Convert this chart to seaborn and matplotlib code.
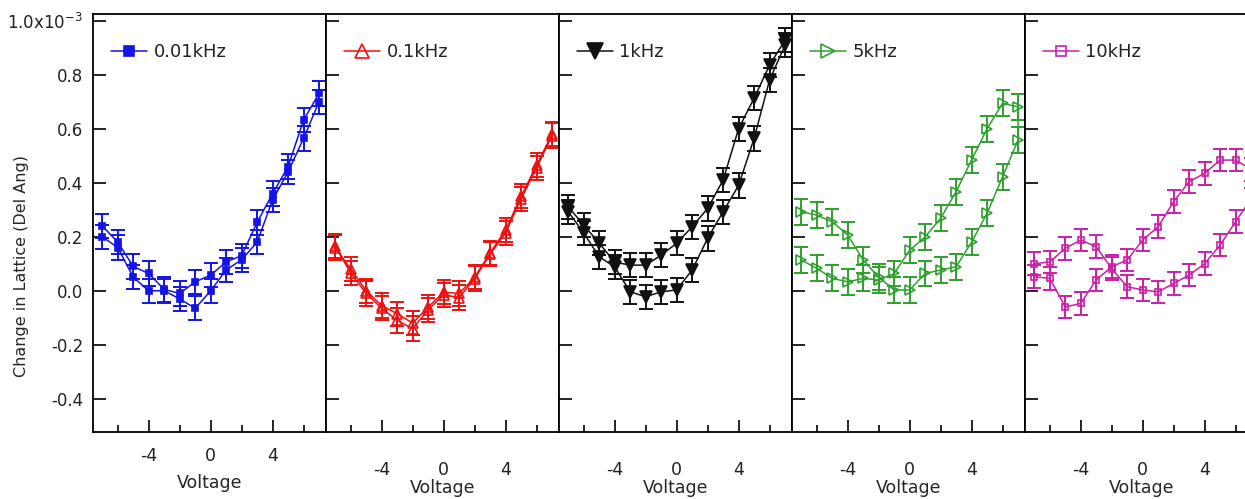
import numpy as np
import pandas as pd
import matplotlib
matplotlib.use("Agg")
import matplotlib.pyplot as plt
import seaborn as sns

# Bias voltage steps (same for every panel)
volts = [-7, -6, -5, -4, -3, -2, -1, 0, 1, 2, 3, 4, 5, 6, 7]

# Change in lattice (x1e-3 Del Ang), two sweep branches per frequency
f001_a = [0.20, 0.16, 0.05, 0.00, 0.00, -0.03, -0.065, 0.00, 0.077, 0.115, 0.18, 0.336, 0.44, 0.564, 0.70]
f001_b = [0.24, 0.18, 0.09, 0.064, 0.005, -0.01, 0.033, 0.058, 0.107, 0.13, 0.253, 0.36, 0.46, 0.632, 0.731]

f01_a = [0.16, 0.08, 0.00, -0.055, -0.085, -0.12, -0.06, -0.005, -0.01, 0.05, 0.14, 0.225, 0.35, 0.465, 0.58]
f01_b = [0.165, 0.065, -0.01, -0.065, -0.11, -0.14, -0.07, -0.015, -0.025, 0.045, 0.135, 0.215, 0.34, 0.455, 0.575]

f1_a = [0.311, 0.243, 0.176, 0.106, 0.095, 0.095, 0.132, 0.176, 0.237, 0.305, 0.41, 0.60, 0.713, 0.836, 0.928]
f1_b = [0.293, 0.213, 0.126, 0.088, -0.004, -0.022, -0.004, 0.003, 0.077, 0.194, 0.293, 0.39, 0.564, 0.78, 0.91]

f5_a = [0.293, 0.28, 0.256, 0.206, 0.114, 0.05, 0.003, 0.003, 0.064, 0.077, 0.089, 0.18, 0.287, 0.422, 0.558]
f5_b = [0.114, 0.083, 0.046, 0.033, 0.046, 0.04, 0.064, 0.15, 0.20, 0.268, 0.367, 0.484, 0.60, 0.694, 0.681]

f10_a = [0.052, 0.046, -0.06, -0.047, 0.04, 0.089, 0.114, 0.188, 0.237, 0.33, 0.404, 0.435, 0.484, 0.484, 0.45]
f10_b = [0.10, 0.107, 0.157, 0.188, 0.163, 0.082, 0.015, 0.003, -0.004, 0.027, 0.058, 0.10, 0.169, 0.256, 0.34]

freq_labels = ["0.01kHz", "0.1kHz", "1kHz", "5kHz", "10kHz"]
err_sizes = [0.045, 0.045, 0.045, 0.048, 0.042]

ytick_vals = [-0.4, -0.2, 0.0, 0.2, 0.4, 0.6, 0.8, 1.0]
ytick_labels = ["-0.4", "-0.2", "0.0", "0.2", "0.4", "0.6", "0.8", "1.0x10$^{-3}$"]


def main():
    sns.set_theme(style="ticks")
    plt.rcParams.update({
        'font.family': ['DejaVu Sans'],
        'mathtext.default': 'regular',
        'axes.edgecolor': 'black',
        'axes.linewidth': 1.3,
        'text.color': '#222222',
        'xtick.color': 'black',
        'ytick.color': 'black',
        'xtick.labelcolor': '#222222',
        'ytick.labelcolor': '#222222',
    })

    branches = [(f001_a, f001_b), (f01_a, f01_b), (f1_a, f1_b), (f5_a, f5_b), (f10_a, f10_b)]
    colors = ['#1414e6', '#f01010', '#111111', '#2ea02e', '#cc1fa8']
    markers = ['s', '^', 'v', '>', 's']
    msizes = [4.5, 7, 8, 6.5, 5]
    filled = [True, False, True, False, False]

    W, H = 1245, 499
    fig = plt.figure(figsize=(W / 100, H / 100), dpi=100, facecolor='white')

    for i, (a, b) in enumerate(branches):
        left = 93 + i * 233
        ax = fig.add_axes([left / W, (H - 432) / H, 233 / W, 418 / H])
        ax.set_facecolor('white')

        # one continuous sweep path: branch a forward, then branch b back
        df = pd.DataFrame({
            'Voltage': volts + volts[::-1],
            'Change': a + b[::-1],
        })
        col = colors[i]

        ax.errorbar(df['Voltage'], df['Change'], yerr=err_sizes[i], fmt='none',
                    ecolor=col, elinewidth=1.4, capsize=5, capthick=1.4, zorder=2)
        sns.lineplot(data=df, x='Voltage', y='Change', sort=False, estimator=None,
                     ax=ax, color=col, linewidth=1.1, marker=markers[i],
                     markersize=msizes[i],
                     markerfacecolor=col if filled[i] else 'none',
                     markeredgecolor=col, markeredgewidth=1.2,
                     label=freq_labels[i], zorder=3)

        ax.set_xlim(-7.6, 7.45)
        ax.set_ylim(-0.523, 1.025)
        ax.set_xticks([-4, 0, 4])
        ax.set_xticklabels(['-4', '0', '4'])
        ax.set_xticks([-6, -2, 2, 6], minor=True)
        ax.set_yticks(ytick_vals)

        for s in ax.spines.values():
            s.set_visible(True)
            s.set_color('black')
            s.set_linewidth(1.3)

        xpad = 11 if i == 0 else 21
        ax.tick_params(axis='x', which='major', direction='in', length=9, width=1.2,
                       labelsize=12.5, pad=xpad, top=False)
        ax.tick_params(axis='x', which='minor', direction='in', length=5, width=1.2, top=False)
        ax.tick_params(axis='y', which='major', direction='in', length=9, width=1.2,
                       labelsize=12, pad=7, right=False)

        ax.set_xlabel("Voltage", fontsize=12.5, labelpad=6 if i == 0 else 0)
        if i == 0:
            ax.set_yticklabels(ytick_labels)
            ax.set_ylabel("Change in Lattice (Del Ang)", fontsize=11.5)
            ax.yaxis.set_label_coords(-0.275, 0.397)
        else:
            ax.set_yticklabels([])
            ax.set_ylabel("")

        ax.legend(loc='center left', bbox_to_anchor=(18 / 233, 0.909), frameon=False,
                  fontsize=13, handlelength=2.0, handletextpad=0.35, borderpad=0,
                  borderaxespad=0, markerscale=1.5)

    fig.savefig("out.png", dpi=100, facecolor='white')
    plt.close(fig)


if __name__ == "__main__":
    main()
